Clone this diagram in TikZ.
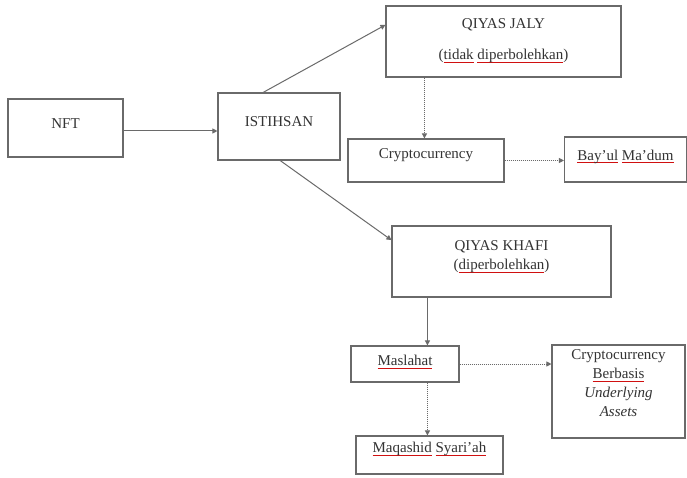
\documentclass[tikz,border=0pt]{standalone}
\usepackage{fontspec}
\setmainfont{Liberation Serif}
\newfontfamily\diagfont{Liberation Serif}
\usetikzlibrary{arrows.meta,calc}
\definecolor{txt}{HTML}{333333}
\definecolor{edge}{HTML}{6A6A6A}
\definecolor{splred}{HTML}{D01010}
\newsavebox\splbox
\newcommand\spl[1]{\sbox\splbox{#1}\rlap{\textcolor{splred}{\rule[-0.2em]{\wd\splbox}{0.8pt}}}\usebox\splbox}
\tikzset{
  box/.style={draw=edge, line width=1.1pt, inner sep=0pt},
  lbl/.style={text=txt, inner sep=0pt, align=center, font=\diagfont\fontsize{15}{19}\selectfont},
  conn/.style={draw=edge, line width=1pt, -{Triangle[length=5pt,width=5pt]}},
  dconn/.style={conn, densely dotted}
}
\begin{document}
\begin{tikzpicture}[x=1pt,y=-1pt]
\useasboundingbox[fill=white] (0,0) rectangle (687,478);
\node[box, minimum width=115pt, minimum height=58pt] (nft) at (65.5,128) {};
\node[box, minimum width=122pt, minimum height=67pt] (ist) at (279,126.5) {};
\node[box, minimum width=235pt, minimum height=71pt] (qj) at (503.5,41.5) {};
\node[box, minimum width=156pt, minimum height=43pt] (cr) at (426,160.5) {};
\node[box, minimum width=122pt, minimum height=45pt] (bay) at (625.5,159.5) {};
\node[box, minimum width=219pt, minimum height=71pt] (qk) at (501.5,261.5) {};
\node[box, minimum width=108pt, minimum height=36pt] (ms) at (405,364) {};
\node[box, minimum width=133pt, minimum height=93pt] (cb) at (618.5,391.5) {};
\node[box, minimum width=147pt, minimum height=38pt] (mq) at (429.5,455) {};
\node[lbl] (nftt) at ($(nft.center)+(0,-4)$) {NFT};
\node[lbl] (istt) at ($(ist.center)+(0,-5)$) {ISTIHSAN};
\node[lbl] (qjt) at ($(qj.center)+(0,-1)$) {QIYAS JALY\\[12pt](\spl{tidak} \spl{diperbolehkan})};
\node[lbl] (crt) at ($(cr.center)+(0,-5)$) {Cryptocurrency};
\node[lbl] (bayt) at ($(bay.center)+(0,-3)$) {\spl{Bay’ul} \spl{Ma’dum}};
\node[lbl] (qkt) at ($(qk.center)+(0,-5)$) {QIYAS KHAFI\\(\spl{diperbolehkan})};
\node[lbl] (mst) at ($(ms.center)+(0,-2)$) {\spl{Maslahat}};
\node[lbl] (cbt) at ($(cb.center)+(0,-8)$) {Cryptocurrency\\\spl{Berbasis}\\\textit{Underlying}\\\textit{Assets}};
\node[lbl] (mqt) at ($(mq.center)+(0,-6)$) {\spl{Maqashid} \spl{Syari’ah}};
\draw[conn] (nft.east |- 0,131) -- (ist.west |- 0,131);
\draw[conn] (ist.115.5) -- (qj.172);
\draw[conn] (ist.-88) -- (qk.169.4);
\draw[dconn] (qj.south west) ++(39,0) coordinate (a1) -- (a1 |- cr.north);
\draw[dconn] (cr.east) -- (cr.east -| bay.west);
\draw[conn] (qk.south west) ++(36,0) coordinate (a2) -- (a2 |- ms.north);
\draw[dconn] (ms.east) -- (ms.east -| cb.west);
\draw[dconn] (a2 |- ms.south) -- (a2 |- mq.north);
\end{tikzpicture}
\end{document}
